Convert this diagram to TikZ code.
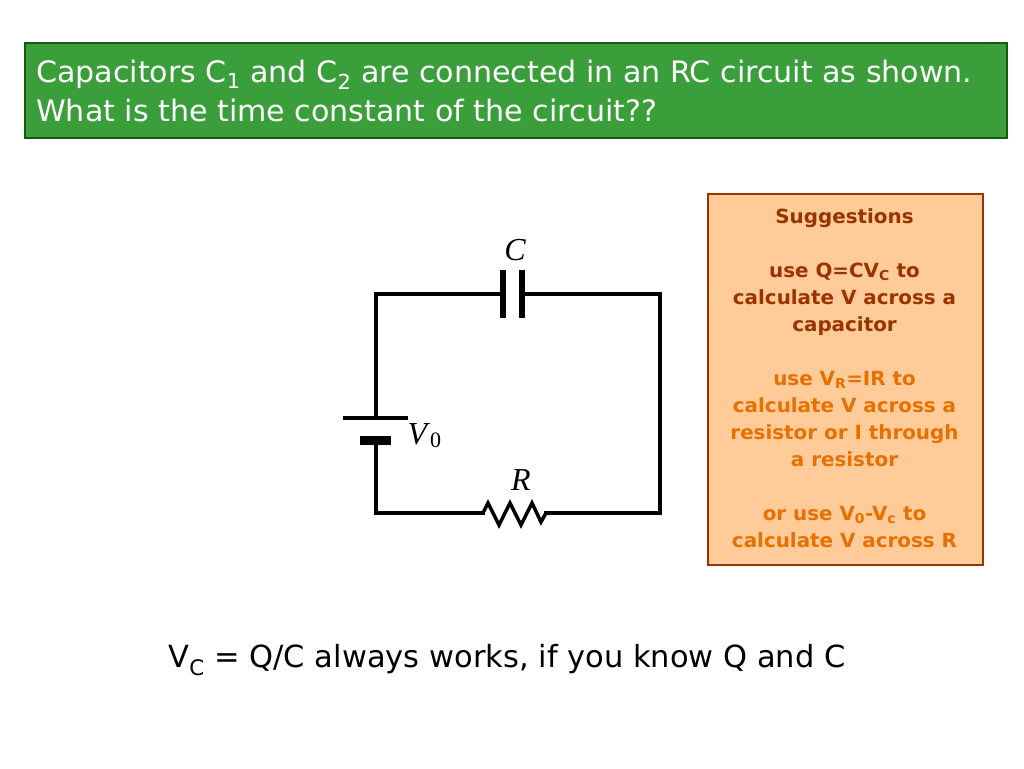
\documentclass[tikz,border=0pt]{standalone}
\usepackage{fontspec}
\setmainfont{DejaVu Sans}
\newfontfamily\sermath{Liberation Serif}
\definecolor{gfill}{RGB}{58,158,58}
\definecolor{gline}{RGB}{20,90,20}
\definecolor{peach}{RGB}{255,204,153}
\definecolor{brn}{RGB}{153,51,0}
\definecolor{org}{RGB}{232,112,0}
\begin{document}
\begin{tikzpicture}[x=1pt,y=-1pt,
  wire/.style={line width=3.5pt,line cap=rect},
  plate/.style={line width=6pt}]
\useasboundingbox (0,0) rectangle (1024,768);
\node[draw=gline,line width=2pt,fill=gfill,minimum width=982pt,minimum height=95pt,anchor=north west] (title) at (24,42) {};
\node[text=white,anchor=west,align=left,inner sep=0pt,font=\fontsize{29.5}{39}\selectfont\addfontfeature{FakeStretch=1.02}] (tt) at (36,91) {Capacitors C\textsubscript{1} and C\textsubscript{2} are connected in an RC circuit as shown.\\What is the time constant of the circuit??};
\node[draw=brn,line width=2pt,fill=peach,minimum width=275pt,minimum height=371pt,anchor=north west] (sug) at (707,193) {};
\node[align=center,font=\bfseries\fontsize{19.5}{27}\selectfont\addfontfeature{FakeStretch=1.02},text=brn] (st) at (844.5,378) {Suggestions\\[27pt]use Q=CV\textsubscript{C} to\\calculate V across a\\capacitor\\[27pt]{\color{org}use V\textsubscript{R}=IR to}\\{\color{org}calculate V across a}\\{\color{org}resistor or I through}\\{\color{org}a resistor}\\[27pt]{\color{org}or use V\textsubscript{0}-V\textsubscript{c} to}\\{\color{org}calculate V across R}};
% circuit
\coordinate (tl) at (376,294); \coordinate (tr) at (660,294);
\coordinate (bl) at (376,513); \coordinate (br) at (660,513);
\coordinate (c1) at (503,294); \coordinate (c2) at (522,294);
\coordinate (b1) at (376,418); \coordinate (b2) at (376,440);
\coordinate (r1) at (483,513); \coordinate (r2) at (546,513);
\draw[wire] (b1) -- (tl) -- (c1);
\draw[wire] (c2) -- (tr) -- (br) -- (r2);
\draw[wire] (b2) -- (bl) -- (r1);
\draw[plate] (503,270) -- (503,318);
\draw[plate] (522,270) -- (522,318);
\draw[line width=4pt] (343,418) -- (408,418);
\draw[line width=9pt] (360,440) -- (391,440);
\draw[line width=3.5pt,line join=miter] (r1) -- (488,503) -- (499,525) -- (510,503) -- (521,525) -- (532,503) -- (541,522) -- (r2);
\node[font=\sermath\itshape\fontsize{32}{32}\selectfont] (C) at (515,250) {C};
\node[font=\sermath\fontsize{32}{32}\selectfont,anchor=west] (V) at (404,436) {\textit{V}\fontsize{22}{22}\selectfont\raisebox{-3pt}{0}};
\node[font=\sermath\itshape\fontsize{32}{32}\selectfont] (R) at (521,480) {R};
\node[font=\fontsize{30.5}{34}\selectfont\addfontfeature{FakeStretch=1.0}] (eq) at (507,660) {V\textsubscript{C} = Q/C always works, if you know Q and C};
\end{tikzpicture}
\end{document}
